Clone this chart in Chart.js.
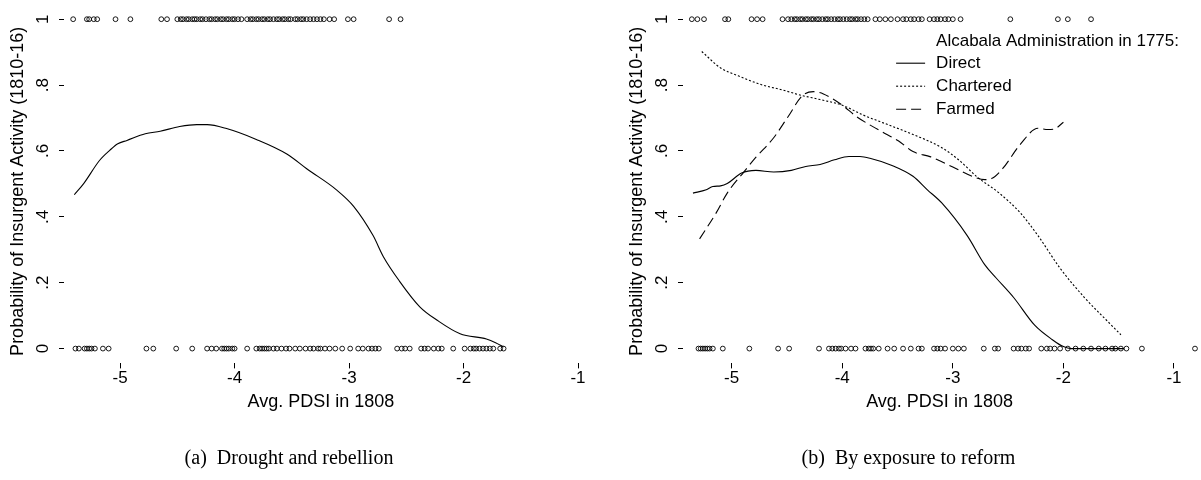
<!DOCTYPE html>
<html>
<head>
<meta charset="utf-8">
<script src="https://cdn.jsdelivr.net/npm/chart.js@4.4.1/dist/chart.umd.min.js"></script>
<style>
  html, body { margin: 0; padding: 0; background: #fff; }
  #wrap { position: relative; width: 1201px; height: 480px; }
  .panel { position: absolute; top: 0; height: 480px; }
</style>
</head>
<body>
<div id="wrap">
  <div class="panel" style="left:0;width:600px"><canvas id="left" width="600" height="480"></canvas></div>
  <div class="panel" style="left:600px;width:601px"><canvas id="right" width="601" height="480"></canvas></div>
</div>
<script>
/* drought / insurgency lowess plots */

const xTicks = [-5, -4, -3, -2, -1];
const yTicks = [0, 0.2, 0.4, 0.6, 0.8, 1];
const yLabels = ["0", ".2", ".4", ".6", ".8", "1"];

// observed municipalities (x = avg PDSI), insurgent = 1 / not = 0
const topLeft = [-5.41, -5.29, -5.27, -5.23, -5.20, -5.04, -4.91, -4.64, -4.59, -4.50, -4.47, -4.45, -4.42, -4.40, -4.37,
  -4.35, -4.33, -4.30, -4.28, -4.25, -4.22, -4.20, -4.17, -4.15, -4.12, -4.10, -4.07, -4.05, -4.02, -4.00, -3.97, -3.94,
  -3.89, -3.86, -3.84, -3.81, -3.79, -3.76, -3.74, -3.71, -3.69, -3.66, -3.63, -3.61, -3.58, -3.56, -3.53, -3.51, -3.47,
  -3.45, -3.42, -3.40, -3.37, -3.34, -3.31, -3.28, -3.25, -3.22, -3.17, -3.13, -3.01, -2.96, -2.65, -2.55];
const bottomLeft = [-5.39, -5.36, -5.31, -5.29, -5.27, -5.25, -5.22, -5.15, -5.10, -4.77, -4.71, -4.51, -4.37, -4.24,
  -4.20, -4.16, -4.11, -4.09, -4.07, -4.05, -4.02, -4.00, -3.89, -3.81, -3.78, -3.76, -3.74, -3.72, -3.70, -3.66, -3.63,
  -3.59, -3.55, -3.52, -3.47, -3.43, -3.38, -3.34, -3.31, -3.27, -3.25, -3.21, -3.17, -3.12, -3.06, -2.99, -2.92, -2.88,
  -2.83, -2.80, -2.77, -2.74, -2.58, -2.54, -2.51, -2.47, -2.37, -2.34, -2.31, -2.26, -2.22, -2.19, -2.09, -1.99, -1.94,
  -1.91, -1.89, -1.86, -1.83, -1.80, -1.77, -1.74, -1.68, -1.65];
const topRight = [-5.36, -5.31, -5.25, -5.06, -5.03, -4.82, -4.77, -4.72, -4.54, -4.49, -4.46, -4.43, -4.41, -4.38, -4.36,
  -4.33, -4.31, -4.28, -4.26, -4.23, -4.21, -4.18, -4.15, -4.13, -4.10, -4.07, -4.04, -4.02, -3.99, -3.96, -3.93, -3.91,
  -3.88, -3.86, -3.83, -3.80, -3.77, -3.70, -3.66, -3.61, -3.56, -3.50, -3.45, -3.42, -3.38, -3.35, -3.31, -3.28, -3.21,
  -3.17, -3.14, -3.11, -3.07, -3.04, -3.00, -2.93, -2.48, -2.05, -1.96, -1.75];
const bottomRight = [-5.30, -5.28, -5.26, -5.24, -5.22, -5.20, -5.17, -5.08, -4.84, -4.58, -4.48, -4.21, -4.12, -4.09,
  -4.06, -4.03, -4.01, -3.97, -3.92, -3.88, -3.79, -3.76, -3.74, -3.72, -3.67, -3.59, -3.53, -3.45, -3.38, -3.31, -3.28,
  -3.17, -3.14, -3.11, -3.07, -3.00, -2.95, -2.90, -2.72, -2.62, -2.59, -2.45, -2.41, -2.38, -2.34, -2.31, -2.20, -2.15,
  -2.12, -2.08, -2.03, -1.96, -1.89, -1.82, -1.75, -1.68, -1.62, -1.56, -1.53, -1.48, -1.43, -1.29, -0.81];

// lowess fits
const poolX = [-5.40, -5.32, -5.18, -5.09, -5.02, -4.94, -4.78, -4.65, -4.48, -4.33, -4.24, -4.07, -3.81, -3.54, -3.37,
  -3.11, -2.96, -2.79, -2.70, -2.56, -2.38, -2.23, -2.03, -1.80, -1.72, -1.65];
const poolY = [0.467, 0.50, 0.571, 0.602, 0.622, 0.632, 0.652, 0.66, 0.674, 0.680, 0.680, 0.668, 0.635, 0.59, 0.546,
  0.482, 0.432, 0.343, 0.279, 0.205, 0.126, 0.086, 0.045, 0.029, 0.018, 0.005];

const directX = [-5.35, -5.23, -5.17, -5.10, -5.04, -4.91, -4.78, -4.62, -4.46, -4.33, -4.20, -4.07, -3.94, -3.84, -3.75,
  -3.55, -3.36, -3.23, -3.10, -2.87, -2.71, -2.61, -2.45, -2.26, -2.10, -2.00, -1.93, -1.45];
const directY = [0.472, 0.482, 0.492, 0.494, 0.501, 0.533, 0.541, 0.536, 0.541, 0.553, 0.559, 0.573, 0.583, 0.583, 0.578,
  0.556, 0.523, 0.482, 0.442, 0.343, 0.254, 0.215, 0.155, 0.071, 0.027, 0.006, 0, 0];
const charteredX = [-5.27, -5.10, -4.94, -4.72, -4.55, -4.36, -4.20, -4.00, -3.81, -3.58, -3.36, -3.10, -2.94, -2.78,
  -2.58, -2.39, -2.23, -2.03, -1.81, -1.61, -1.48];
const charteredY = [0.902, 0.852, 0.828, 0.80, 0.786, 0.768, 0.756, 0.739, 0.709, 0.679, 0.650, 0.610, 0.571, 0.521,
  0.472, 0.412, 0.343, 0.244, 0.155, 0.086, 0.042];
const farmedX = [-5.29, -5.14, -5.04, -4.89, -4.78, -4.62, -4.49, -4.36, -4.26, -4.17, -4.00, -3.87, -3.65, -3.49, -3.36,
  -3.20, -3.00, -2.81, -2.71, -2.65, -2.55, -2.39, -2.23, -2.14, -2.08, -2.00];
const farmedY = [0.333, 0.412, 0.472, 0.536, 0.581, 0.640, 0.704, 0.768, 0.780, 0.773, 0.739, 0.704, 0.660, 0.630, 0.598,
  0.582, 0.551, 0.521, 0.513, 0.516, 0.546, 0.620, 0.669, 0.665, 0.667, 0.687];

const yTitle = "Probability of Insurgent Activity (1810-16)";
const xTitle = "Avg. PDSI in 1808";
const legendTitle = "Alcabala Administration in 1775:";

const SANS = '"Liberation Sans", Arial, Helvetica, sans-serif';
const SERIF = '"Liberation Serif", "Times New Roman", serif';
Chart.defaults.font.family = SANS;
Chart.defaults.color = "#000";

const pts = (xs, y) => xs.map(x => ({x, y}));
const xy = (xs, ys) => xs.map((x, i) => ({x, y: ys[i]}));

function dots(top, bottom){
  return {
    data: pts(top, 1).concat(pts(bottom, 0)),
    pointRadius: 2.4, pointBorderWidth: 0.9,
    pointBackgroundColor: "rgba(255,255,255,0)", pointBorderColor: "#000",
    showLine: false, clip: false
  };
}
function curve(label, xs, ys, dash){
  return {
    label, data: xy(xs, ys), showLine: true, pointRadius: 0,
    borderColor: "#000", borderWidth: 1.1, borderDash: dash,
    cubicInterpolationMode: "monotone", fill: false, clip: false
  };
}

// legend drawn inside the plot, top right
const keyBox = {
  id: "keyBox",
  afterDraw(chart, args, opts){
    if(!opts.show) return;
    const {ctx, chartArea} = chart;
    const x0 = chartArea.right - 260;
    ctx.save();
    ctx.font = "17px " + SANS;
    ctx.fillStyle = "#000"; ctx.textBaseline = "middle";
    ctx.fillText(legendTitle, x0, chartArea.top + 22);
    chart.data.datasets.filter(d => d.label).forEach((d, i) => {
      const y = chartArea.top + 44 + i*23;
      ctx.setLineDash(d.borderDash || []);
      ctx.lineWidth = d.borderWidth; ctx.strokeStyle = d.borderColor;
      ctx.beginPath(); ctx.moveTo(x0-40, y); ctx.lineTo(x0-11, y); ctx.stroke();
      ctx.setLineDash([]);
      ctx.fillText(d.label, x0, y);
    });
    ctx.restore();
  }
};

function makePanel(id, datasets, xMin, xMax, pad, caption, withKey){
  return new Chart(document.getElementById(id), {
    type: "scatter",
    data: {datasets},
    plugins: [keyBox],
    options: {
      responsive: false, animation: false, devicePixelRatio: 1,
      layout: {padding: pad},
      plugins: {
        legend: {display: false}, tooltip: {enabled: false},
        keyBox: {show: withKey},
        title: {display: true, position: "bottom", text: caption, color: "#000",
          font: {family: SERIF, size: 20, weight: "normal"}, padding: {top: 0, bottom: 9}}
      },
      scales: {
        x: {
          type: "linear", min: xMin, max: xMax,
          afterBuildTicks: s => { s.ticks = xTicks.map(v => ({value: v})); },
          afterFit: s => { s.height = 83.6; },
          border: {display: false},
          grid: {drawOnChartArea: false, tickLength: 5, tickColor: "#000", lineWidth: 1},
          ticks: {color: "#000", font: {size: 17}, padding: 0, maxRotation: 0, callback: v => String(v)},
          title: {display: true, text: xTitle, color: "#000", font: {size: 18}, padding: {top: 0, bottom: 34}}
        },
        y: {
          min: -0.045, max: 1,
          afterBuildTicks: s => { s.ticks = yTicks.map(v => ({value: v})); },
          afterFit: s => { s.width = 64; },
          border: {display: false},
          grid: {drawOnChartArea: false, tickLength: 5, tickColor: "#000", lineWidth: 1},
          ticks: {color: "#000", font: {size: 17}, minRotation: 90, maxRotation: 90, crossAlign: "center", padding: 9,
            callback: v => yLabels[yTicks.indexOf(v)]},
          title: {display: true, text: yTitle, color: "#000", font: {size: 18}, padding: {top: 7, bottom: 0}}
        }
      }
    }
  });
}

makePanel("left",
  [dots(topLeft, bottomLeft), curve(undefined, poolX, poolY, [])],
  -5.49, -1, {top: 12, left: 0, right: 22, bottom: 0},
  "(a)  Drought and rebellion", false);

makePanel("right",
  [dots(topRight, bottomRight),
   curve("Direct", directX, directY, []),
   curve("Chartered", charteredX, charteredY, [2, 2]),
   curve("Farmed", farmedX, farmedY, [10, 5])],
  -5.44, -0.8, {top: 12, left: 19, right: 3, bottom: 0},
  "(b)  By exposure to reform", true);
</script>
</body>
</html>
